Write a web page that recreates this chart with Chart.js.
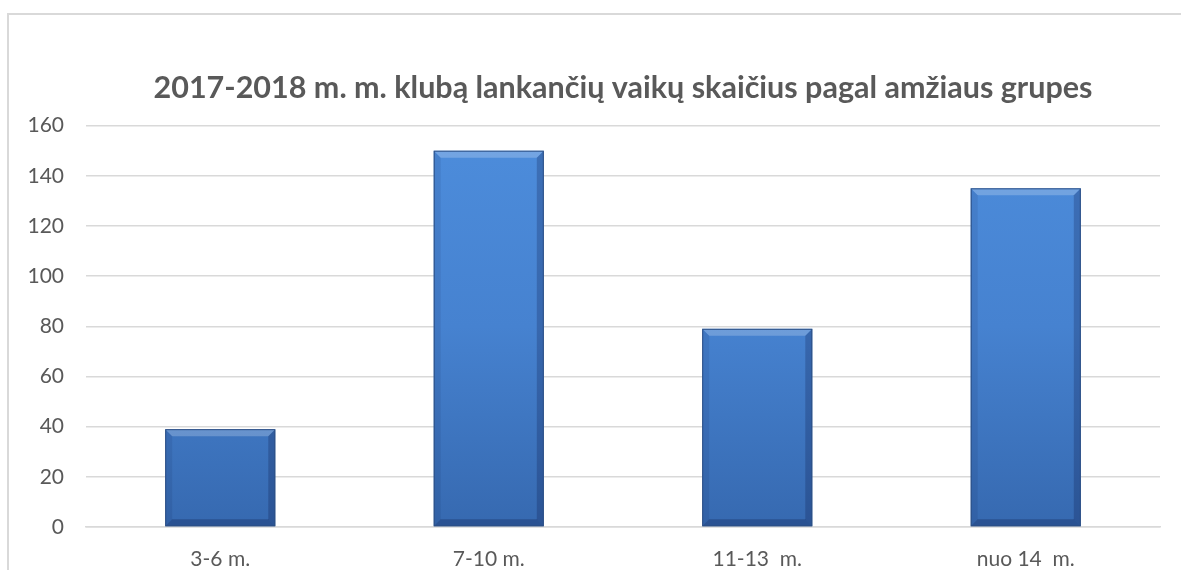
<!DOCTYPE html>
<html>
<head>
<meta charset="utf-8">
<script src="https://cdn.jsdelivr.net/npm/chart.js@4.4.1/dist/chart.umd.min.js"></script>
<style>
  html, body { margin: 0; padding: 0; background: #fff; }
  #wrap { width: 1181px; height: 570px; position: relative; }
</style>
</head>
<body>
<div id="wrap"><canvas id="myChart"></canvas></div>
<script>
const categories = ['3-6 m.', '7-10 m.', '11-13  m.', 'nuo 14  m.'];
const childCounts = [39, 150, 79, 135];
const yTicks = [0, 20, 40, 60, 80, 100, 120, 140, 160];

const chartTitle = '2017-2018 m. m. klubą lankančių vaikų skaičius pagal amžiaus grupes';

// frame around the whole chart, like the Excel chart border
const framePlugin = {
    id: 'frame',
    beforeDraw(chart) {
        const ctx = chart.ctx;
        ctx.save();
        ctx.strokeStyle = '#d9d9d9';
        ctx.lineWidth = 2;
        ctx.strokeRect(8, 14, chart.width + 10, chart.height + 10);
        ctx.restore();
    }
};

// bevel on the bars, drawn from the bar elements the library laid out
const bevelPlugin = {
    id: 'bevel',
    afterDatasetsDraw(chart) {
        const ctx = chart.ctx;
        const meta = chart.getDatasetMeta(0);
        ctx.save();
        meta.data.forEach(bar => {
            const l = bar.x - bar.width / 2;
            const r = bar.x + bar.width / 2;
            const t = bar.y;
            const b = bar.base;
            const d = 7;
            // top light strip
            ctx.fillStyle = 'rgba(255,255,255,0.22)';
            ctx.beginPath();
            ctx.moveTo(l, t); ctx.lineTo(r, t); ctx.lineTo(r - d, t + d); ctx.lineTo(l + d, t + d);
            ctx.closePath(); ctx.fill();
            // left strip
            ctx.fillStyle = 'rgba(0,0,40,0.08)';
            ctx.beginPath();
            ctx.moveTo(l, t); ctx.lineTo(l + d, t + d); ctx.lineTo(l + d, b - d); ctx.lineTo(l, b);
            ctx.closePath(); ctx.fill();
            // right strip
            ctx.fillStyle = 'rgba(0,0,40,0.20)';
            ctx.beginPath();
            ctx.moveTo(r, t); ctx.lineTo(r - d, t + d); ctx.lineTo(r - d, b - d); ctx.lineTo(r, b);
            ctx.closePath(); ctx.fill();
            // bottom strip
            ctx.fillStyle = 'rgba(0,0,40,0.22)';
            ctx.beginPath();
            ctx.moveTo(l, b); ctx.lineTo(l + d, b - d); ctx.lineTo(r - d, b - d); ctx.lineTo(r, b);
            ctx.closePath(); ctx.fill();
            ctx.strokeStyle = '#2c4f85';
            ctx.lineWidth = 1;
            ctx.strokeRect(l + 0.5, t + 0.5, bar.width - 1, b - t - 1);
        });
        ctx.restore();
    }
};

function barGradient(context) {
    const area = context.chart.chartArea;
    if (!area) return '#4a86d0';
    const g = context.chart.ctx.createLinearGradient(0, area.top, 0, area.bottom);
    g.addColorStop(0, '#4d8ddc');
    g.addColorStop(0.5, '#4682d0');
    g.addColorStop(1, '#3669b0');
    return g;
}

const config = {
    type: 'bar',
    data: {
        labels: categories,
        datasets: [{
            label: 'Vaikų skaičius',
            data: childCounts,
            backgroundColor: barGradient,
            borderWidth: 0,
            categoryPercentage: 1,
            barPercentage: 0.41
        }]
    },
    options: {
        responsive: true,
        maintainAspectRatio: false,
        animation: false,
        layout: {
            padding: { left: 8, right: 21, top: 0, bottom: 0 }
        },
        plugins: {
            legend: { display: false },
            tooltip: { enabled: false },
            title: {
                display: true,
                fullSize: false,
                text: chartTitle,
                color: '#595959',
                font: { family: 'Lato', size: 30.5, weight: 'bold' },
                padding: { top: 70, bottom: 19 }
            }
        },
        scales: {
            y: {
                min: 0,
                max: 160,
                afterBuildTicks: axis => { axis.ticks = yTicks.map(v => ({ value: v })); },
                afterFit: axis => { axis.width = 78; },
                border: { display: false },
                grid: { color: '#d9d9d9', lineWidth: 1.5, drawTicks: false },
                ticks: {
                    color: '#595959',
                    padding: 22,
                    font: { family: 'Lato', size: 21 }
                }
            },
            x: {
                afterFit: axis => { axis.height = 43; },
                border: { display: true, color: '#d9d9d9', width: 1.5 },
                grid: { display: false },
                ticks: {
                    color: '#595959',
                    padding: 12,
                    font: { family: 'Lato', size: 21 }
                }
            }
        }
    },
    plugins: [framePlugin, bevelPlugin]
};

const myChart = new Chart(document.getElementById('myChart'), config);
</script>
</body>
</html>
